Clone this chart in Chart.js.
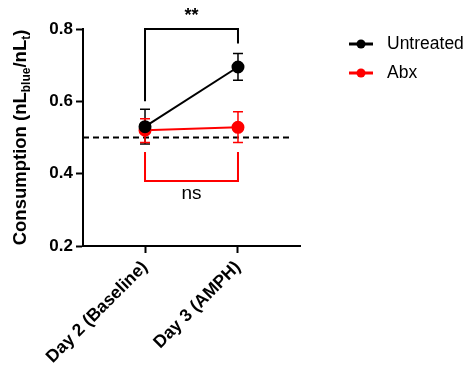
<!DOCTYPE html>
<html><head><meta charset="utf-8">
<script src="https://cdn.jsdelivr.net/npm/chart.js@4/dist/chart.umd.min.js"></script>
<style>html,body{margin:0;padding:0;background:#fff}#wrap{width:467px;height:370px}</style>
</head><body><div id="wrap"><canvas id="c" width="467" height="370"></canvas></div>
<script>
const categories = ["Day 2 (Baseline)", "Day 3 (AMPH)"];
const xPositions = [0, 1];
const seriesNames = ["Untreated", "Abx"];
const seriesColors = ["#000000", "#ff0000"];
const untreatedMean = [0.53, 0.695];
const untreatedLow = [0.482, 0.658];
const untreatedHigh = [0.578, 0.732];
const abxMean = [0.52, 0.528];
const abxLow = [0.486, 0.486];
const abxHigh = [0.552, 0.571];
const yTicks = [0.2, 0.4, 0.6, 0.8];
const referenceLine = 0.5;
// significance brackets: [x1, x2, yBar, yLeftEnd, yRightEnd, label, labelY]
const bracketUntreated = [0, 1, 0.8, 0.6, 0.76, "**", 0.837];
const bracketAbx = [0, 1, 0.38, 0.46, 0.46, "ns", 0.345];

const FONT = "'Liberation Sans', Arial, sans-serif";

const errs = [[untreatedLow, untreatedHigh], [abxLow, abxHigh]];

const extras = {
  id: 'extras',
  beforeDatasetsDraw(chart) {
    const ctx = chart.ctx, x = chart.scales.x, y = chart.scales.y;
    ctx.save();
    ctx.strokeStyle = '#000'; ctx.lineWidth = 2; ctx.setLineDash([6, 4]);
    ctx.beginPath();
    ctx.moveTo(chart.chartArea.left, y.getPixelForValue(referenceLine));
    ctx.lineTo(chart.chartArea.right - 8, y.getPixelForValue(referenceLine));
    ctx.stroke();
    ctx.restore();
    chart.data.datasets.forEach((ds, i) => {
      ctx.save();
      ctx.strokeStyle = seriesColors[i]; ctx.lineWidth = 1.5;
      xPositions.forEach((xv, j) => {
        const px = x.getPixelForValue(xv);
        const lo = y.getPixelForValue(errs[i][0][j]);
        const hi = y.getPixelForValue(errs[i][1][j]);
        ctx.beginPath();
        ctx.moveTo(px, lo); ctx.lineTo(px, hi);
        ctx.moveTo(px - 5, lo); ctx.lineTo(px + 5, lo);
        ctx.moveTo(px - 5, hi); ctx.lineTo(px + 5, hi);
        ctx.stroke();
      });
      ctx.restore();
    });
  },
  afterDraw(chart) {
    const ctx = chart.ctx, x = chart.scales.x, y = chart.scales.y;
    [[bracketUntreated, '#000', "bold 18px " + FONT], [bracketAbx, '#ff0000', "19px " + FONT]].forEach(([b, col, font]) => {
      const x1 = x.getPixelForValue(b[0]), x2 = x.getPixelForValue(b[1]);
      const yb = y.getPixelForValue(b[2]);
      ctx.save();
      ctx.strokeStyle = col; ctx.lineWidth = 2;
      ctx.beginPath();
      ctx.moveTo(x1, y.getPixelForValue(b[3]));
      ctx.lineTo(x1, yb); ctx.lineTo(x2, yb);
      ctx.lineTo(x2, y.getPixelForValue(b[4]));
      ctx.stroke();
      ctx.fillStyle = '#000'; ctx.font = font;
      ctx.textAlign = 'center'; ctx.textBaseline = 'middle';
      ctx.fillText(b[5], (x1 + x2) / 2, y.getPixelForValue(b[6]));
      ctx.restore();
    });
    const parts = [["Consumption (nL", 0], ["blue", 1], ["/nL", 0], ["t", 1], [")", 0]];
    const big = "bold 18.5px " + FONT, small = "bold 12px " + FONT;
    ctx.save();
    let total = 0;
    parts.forEach(p => { ctx.font = p[1] ? small : big; total += ctx.measureText(p[0]).width; });
    const cy = (chart.chartArea.top + chart.chartArea.bottom) / 2;
    ctx.translate(26, cy);
    ctx.rotate(-Math.PI / 2);
    ctx.fillStyle = '#000'; ctx.textBaseline = 'alphabetic'; ctx.textAlign = 'left';
    let cx = -total / 2;
    parts.forEach(p => {
      ctx.font = p[1] ? small : big;
      ctx.fillText(p[0], cx, p[1] ? 4 : 0);
      cx += ctx.measureText(p[0]).width;
    });
    ctx.restore();
    ctx.save();
    seriesNames.forEach((n, i) => {
      const ly = 44 + i * 29;
      ctx.strokeStyle = seriesColors[i]; ctx.lineWidth = 3;
      ctx.beginPath(); ctx.moveTo(349, ly); ctx.lineTo(373, ly); ctx.stroke();
      ctx.fillStyle = seriesColors[i];
      ctx.beginPath(); ctx.arc(361, ly, 4.5, 0, Math.PI * 2); ctx.fill();
      ctx.fillStyle = '#000'; ctx.font = "17.5px " + FONT;
      ctx.textAlign = 'left'; ctx.textBaseline = 'middle';
      ctx.fillText(n, 387, ly);
    });
    ctx.restore();
  }
};

const mk = (vals) => xPositions.map((xv, j) => ({ x: xv, y: vals[j] }));

new Chart(document.getElementById('c'), {
  type: 'line',
  data: {
    datasets: [
      { label: seriesNames[0], data: mk(untreatedMean), borderColor: seriesColors[0], backgroundColor: seriesColors[0], borderWidth: 2, pointRadius: 5.5, pointHoverRadius: 5.5 },
      { label: seriesNames[1], data: mk(abxMean), borderColor: seriesColors[1], backgroundColor: seriesColors[1], borderWidth: 2, pointRadius: 5.5, pointHoverRadius: 5.5 }
    ]
  },
  options: {
    responsive: false, animation: false,
    layout: { padding: { top: 29, right: 167, left: 0, bottom: 0 } },
    plugins: { legend: { display: false }, tooltip: { enabled: false } },
    scales: {
      x: {
        type: 'linear', min: -0.667, max: 1.667,
        afterBuildTicks: s => { s.ticks = xPositions.map(v => ({ value: v })); },
        afterFit: s => { s.height = 370 - 246; },
        ticks: {
          callback: (v) => categories[xPositions.indexOf(v)] ?? '',
          minRotation: 45, maxRotation: 45, color: '#000', padding: 4,
          font: { family: FONT, size: 17.5, weight: 'bold' }
        },
        grid: { display: true, drawOnChartArea: false, drawTicks: true, tickLength: 7, tickColor: '#000', tickWidth: 2 },
        border: { color: '#000', width: 2 }
      },
      y: {
        min: 0.2, max: 0.8,
        afterBuildTicks: s => { s.ticks = yTicks.map(v => ({ value: v })); },
        afterFit: s => { s.width = 83; },
        ticks: {
          callback: v => v.toFixed(1), color: '#000', padding: 3,
          font: { family: FONT, size: 17, weight: 'bold' }
        },
        grid: { display: true, drawOnChartArea: false, drawTicks: true, tickLength: 7, tickColor: '#000', tickWidth: 2 },
        border: { color: '#000', width: 2 }
      }
    }
  },
  plugins: [extras]
});
</script></body></html>
